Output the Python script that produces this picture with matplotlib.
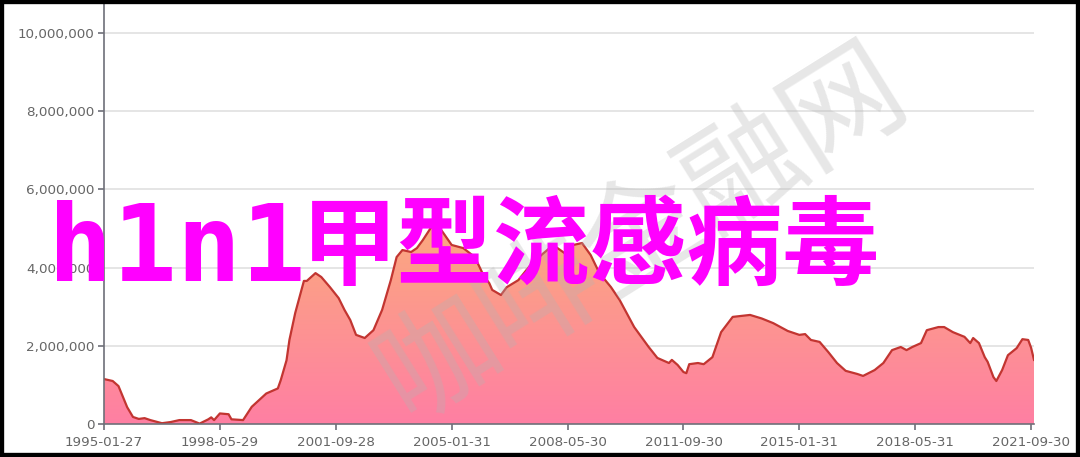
import numpy as np
import matplotlib.pyplot as plt
from matplotlib.colors import LinearSegmentedColormap
from matplotlib.patches import Rectangle
from matplotlib.ticker import FuncFormatter

# 月度数据（读图估计，单位：百万）
months = ['1995-01', '1995-04', '1995-06', '1995-08', '1995-09', '1995-11', '1996-01', '1996-03',
          '1996-05', '1996-09', '1996-12', '1997-03', '1997-07', '1997-10', '1998-01', '1998-02',
          '1998-03', '1998-05', '1998-08', '1998-09', '1999-01', '1999-04', '1999-09', '2000-01',
          '2000-02', '2000-04', '2000-05', '2000-07', '2000-10', '2000-11', '2001-02', '2001-04',
          '2001-07', '2001-10', '2001-12', '2002-02', '2002-04', '2002-07', '2002-10', '2003-01',
          '2003-04', '2003-06', '2003-08', '2003-11', '2004-01', '2004-03', '2004-06', '2004-07',
          '2004-10', '2005-01', '2005-05', '2005-09', '2005-12', '2006-02', '2006-03', '2006-06',
          '2006-08', '2006-12', '2007-05', '2007-10', '2007-12', '2008-04', '2008-07', '2008-10',
          '2009-01', '2009-04', '2009-08', '2009-11', '2010-04', '2010-09', '2010-12', '2011-04',
          '2011-05', '2011-07', '2011-09', '2011-10', '2011-11', '2012-02', '2012-04', '2012-07',
          '2012-10', '2013-02', '2013-08', '2013-12', '2014-04', '2014-09', '2015-01', '2015-03',
          '2015-05', '2015-08', '2015-11', '2016-02', '2016-05', '2016-09', '2016-11', '2017-03',
          '2017-06', '2017-09', '2017-12', '2018-02', '2018-04', '2018-07', '2018-09', '2019-01',
          '2019-03', '2019-06', '2019-10', '2019-12', '2020-01', '2020-03', '2020-05', '2020-06',
          '2020-08', '2020-09', '2020-11', '2021-01', '2021-04', '2021-06', '2021-08', '2021-09',
          '2021-10']
cases_mln = [1.15, 1.10, 0.97, 0.61, 0.43, 0.18, 0.13, 0.15,
             0.10, 0.02, 0.05, 0.10, 0.10, 0.01, 0.12, 0.17,
             0.10, 0.27, 0.25, 0.12, 0.10, 0.44, 0.78, 0.91,
             1.12, 1.63, 2.15, 2.84, 3.66, 3.66, 3.86, 3.76,
             3.50, 3.22, 2.92, 2.66, 2.28, 2.20, 2.40, 2.92,
             3.68, 4.27, 4.45, 4.40, 4.50, 4.70, 5.04, 5.20,
             4.90, 4.58, 4.50, 4.27, 3.80, 3.60, 3.43, 3.30,
             3.50, 3.68, 4.14, 4.45, 4.58, 4.37, 4.58, 4.63,
             4.32, 3.86, 3.50, 3.17, 2.48, 1.97, 1.69, 1.56,
             1.64, 1.51, 1.33, 1.30, 1.53, 1.56, 1.53, 1.71,
             2.35, 2.74, 2.79, 2.70, 2.58, 2.38, 2.28, 2.30,
             2.15, 2.10, 1.84, 1.56, 1.36, 1.28, 1.23, 1.38,
             1.56, 1.89, 1.97, 1.89, 1.97, 2.07, 2.40, 2.48,
             2.48, 2.35, 2.23, 2.07, 2.20, 2.07, 1.71, 1.59,
             1.20, 1.10, 1.38, 1.76, 1.94, 2.17, 2.15, 1.95,
             1.64]

tick_labels = ['1995-01-27', '1998-05-29', '2001-09-28', '2005-01-31', '2008-05-30',
               '2011-09-30', '2015-01-31', '2018-05-31', '2021-09-30']
y_ticks = [0, 2000000, 4000000, 6000000, 8000000, 10000000]

title_latin = 'h1n1'
title_cjk = '甲型流感病毒'
watermark = '咖啡金融网'


def month_index(s):
    y, m = int(s[:4]), int(s[5:7])
    return (y - 1995) * 12 + (m - 1)


x = np.array([month_index(m) for m in months])
y = np.array(cases_mln) * 1e6
tick_pos = [month_index(t) for t in tick_labels]

axis_color = '#6E7079'

fig = plt.figure(figsize=(10.8, 4.57), dpi=100)
ax = fig.add_axes([104 / 1080, 33 / 457, 930 / 1080, 421 / 457])

# 渐变填充
cmap = LinearSegmentedColormap.from_list('grad', ['#FF7FA3', '#FBAA7E'])
grad = np.linspace(0, 1, 256).reshape(-1, 1)
fill = ax.fill_between(x, y, 0, color='none', lw=0)
img = ax.imshow(grad, cmap=cmap, origin='lower', aspect='auto',
                extent=[x.min(), x.max(), 0, y.max()], zorder=2)
img.set_clip_path(fill.get_paths()[0], transform=ax.transData)
ax.plot(x, y, color='#C23531', lw=1.6, zorder=3)

ax.set_xlim(0, x.max())
ax.set_ylim(0, 10770000)
ax.set_yticks(y_ticks)
ax.yaxis.set_major_formatter(FuncFormatter(lambda v, _: f'{int(v):,}'))
ax.set_xticks(tick_pos)
ax.set_xticklabels(tick_labels)
ax.grid(axis='y', color='#E0E0E0', lw=1.2, zorder=0)
ax.set_axisbelow(True)

for s in ['top', 'right']:
    ax.spines[s].set_visible(False)
for s in ['left', 'bottom']:
    ax.spines[s].set_color(axis_color)
    ax.spines[s].set_linewidth(1.2)
    ax.spines[s].set_zorder(4)
ax.tick_params(axis='y', colors=axis_color, labelcolor='#666666', length=4, width=1.2,
               labelsize=9.7, pad=3)
ax.tick_params(axis='x', colors=axis_color, labelcolor='#666666', length=4, width=1.2,
               labelsize=9.7, pad=5)

# 水印
fig.text(0.595, 0.49, watermark, family=['Noto Sans CJK SC'], fontweight='light', fontsize=86,
         color='#B4B4B4', alpha=0.32, rotation=32, ha='center', va='center', zorder=5)

# 标题文字
fig.text(48 / 1080, (457 - 281) / 457, title_latin, family=['DejaVu Sans Mono'],
         fontweight='bold', fontsize=77, color='#FF00FF', ha='left', va='baseline', zorder=10)
fig.text(301 / 1080, (457 - 248) / 457, title_cjk, family=['Noto Sans CJK SC'],
         fontweight='bold', fontsize=69.5, color='#FF00FF', ha='left', va='center', zorder=10)

fig.patches.append(Rectangle((0, 0), 1, 1, transform=fig.transFigure, fill=False,
                             edgecolor='black', lw=6, zorder=20))

fig.savefig('out.png', dpi=100)
